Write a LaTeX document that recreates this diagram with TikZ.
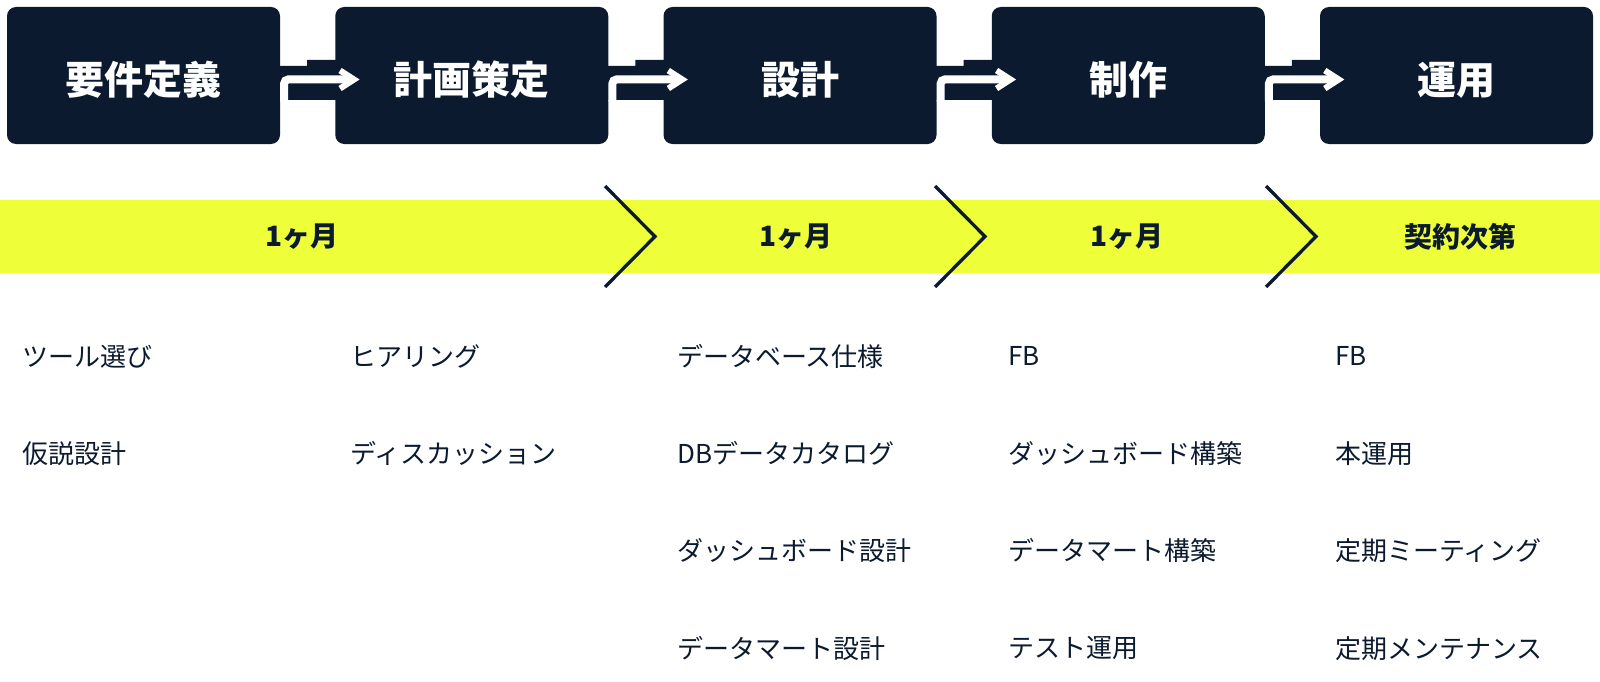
\documentclass[tikz,border=0pt]{standalone}
\usepackage{fontspec}
\setmainfont{Noto Sans CJK JP}
\usepackage{xcolor}
\usepackage{tikz}
\usetikzlibrary{calc,positioning}
\definecolor{navy}{HTML}{0B1A2E}
\definecolor{lime}{HTML}{EEFF3A}

\begin{document}
\begin{tikzpicture}[x=1pt,y=-1pt,
  phase/.style={fill=navy,rounded corners=9pt,minimum width=273pt,minimum height=137pt,inner sep=0pt,text=white,text height=43pt,text depth=4pt,font=\fontsize{39}{41}\selectfont\bfseries},
  span/.style={text=navy,inner sep=0pt,font=\fontsize{28}{30}\selectfont\bfseries},
  task/.style={text=navy,anchor=west,inner sep=0pt,font=\fontsize{26}{28}\selectfont},
  chev/.style={draw=navy,line width=3.3pt}]
  \useasboundingbox (0,0) rectangle (1600,682);
  \node[phase] (b1) at (143.5,75.5) {要件定義};
  \node[phase] (b2) at (471.75,75.5) {計画策定};
  \node[phase] (b3) at (800,75.5) {設計};
  \node[phase] (b4) at (1128.25,75.5) {制作};
  \node[phase] (b5) at (1456.5,75.5) {運用};
  \foreach \a/\b in {b1/b2,b2/b3,b3/b4,b4/b5}{
    \fill[navy] ($(\a.east)+(-1,-9.5)$) -- ($(\a.east)+(27,-9.5)$) -- ($(\a.east)+(27,-15.5)$)
      -- ($(\b.west)+(1,-15.5)$) -- ($(\b.west)+(1,24.5)$) -- ($(\a.east)+(-1,24.5)$) -- cycle;
    \draw[white,line width=8pt,rounded corners=4pt] ($(\a.east)+(4,26)$) -- ($(\a.east)+(4,4)$) -- ($(\b.west)+(17,4)$);
    \draw[white,line width=6pt,miter limit=10] ($(\b.west)+(5,-5)$) -- ($(\b.west)+(19,4)$) -- ($(\b.west)+(5,13)$);
  }
  \fill[lime] (0,200) rectangle (1600,273);
  \foreach \x in {605,935,1266}{
    \draw[chev] (\x,186) -- (\x+50,236.5) -- (\x,287);
  }
  \node[span] (s1) at (302,237) {1ヶ月};
  \node[span] (s2) at (796,237) {1ヶ月};
  \node[span] (s3) at (1127,237) {1ヶ月};
  \node[span] (s4) at (1460,237) {契約次第};
  \foreach \t [count=\k] in {ツール選び,仮説設計}
    \node[task] (t1-\k) at (22,259+97.3*\k) {\t};
  \foreach \t [count=\k] in {ヒアリング,ディスカッション}
    \node[task] (t2-\k) at (350,259+97.3*\k) {\t};
  \foreach \t [count=\k] in {データベース仕様,DBデータカタログ,ダッシュボード設計,データマート設計}
    \node[task] (t3-\k) at (677,259+97.3*\k) {\t};
  \foreach \t [count=\k] in {FB,ダッシュボード構築,データマート構築,テスト運用}
    \node[task] (t4-\k) at (1008,259+97.3*\k) {\t};
  \foreach \t [count=\k] in {FB,本運用,定期ミーティング,定期メンテナンス}
    \node[task] (t5-\k) at (1335,259+97.3*\k) {\t};
\end{tikzpicture}
\end{document}
